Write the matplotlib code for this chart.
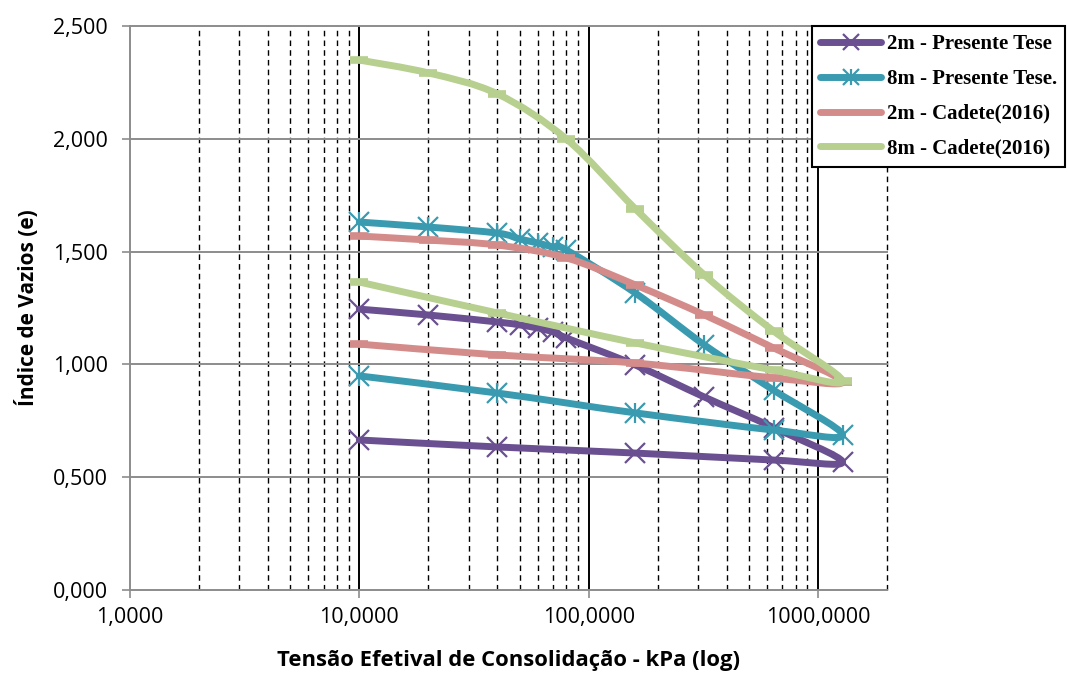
import numpy as np
import matplotlib
matplotlib.use("Agg")
import matplotlib.pyplot as plt
from matplotlib.path import Path
from matplotlib.patches import PathPatch
from matplotlib.lines import Line2D
from matplotlib.ticker import FixedLocator, FuncFormatter

# Ensaios de adensamento: tensão efetiva (kPa) x índice de vazios
p2_tese_x = [10, 20, 40, 50, 60, 70, 80, 160, 320, 640, 1280, 640, 160, 40, 10]
p2_tese_e = [1.245, 1.219, 1.188, 1.175, 1.161, 1.144, 1.117, 0.997, 0.855, 0.720, 0.567, 0.576, 0.607, 0.634, 0.665]

p8_tese_x = [10, 20, 40, 50, 60, 70, 80, 160, 320, 640, 1280, 640, 160, 40, 10]
p8_tese_e = [1.631, 1.609, 1.582, 1.556, 1.538, 1.520, 1.507, 1.316, 1.086, 0.886, 0.687, 0.709, 0.785, 0.873, 0.949]

p2_cad_x = [10, 20, 40, 80, 160, 320, 640, 1280, 640, 160, 40, 10]
p2_cad_e = [1.569, 1.551, 1.529, 1.472, 1.352, 1.219, 1.073, 0.922, 0.940, 1.006, 1.042, 1.090]

p8_cad_x = [10, 20, 40, 80, 160, 320, 640, 1280, 640, 160, 40, 10]
p8_cad_e = [2.349, 2.292, 2.199, 1.999, 1.689, 1.396, 1.148, 0.926, 0.975, 1.095, 1.228, 1.365]

labels = ["2m - Presente Tese", "8m - Presente Tese.", "2m - Cadete(2016)", "8m - Cadete(2016)"]
colors = ["#6A5090", "#3A9BB0", "#D48C8A", "#B7CF8F"]

x_ticks = [1, 10, 100, 1000]
y_ticks = [0.0, 0.5, 1.0, 1.5, 2.0, 2.5]

LW = 5.0


def smooth_path(xs, ys):
    """Cubic Bezier path through the points (Catmull-Rom tangents in log-x space)."""
    u = np.log10(np.asarray(xs, float))
    y = np.asarray(ys, float)
    n = len(u)
    verts = [(xs[0], ys[0])]
    codes = [Path.MOVETO]
    for i in range(n - 1):
        a = max(i - 1, 0)
        b = min(i + 2, n - 1)
        c1u = u[i] + (u[i + 1] - u[a]) / 6.0
        c1y = y[i] + (y[i + 1] - y[a]) / 6.0
        c2u = u[i + 1] - (u[b] - u[i]) / 6.0
        c2y = y[i + 1] - (y[b] - y[i]) / 6.0
        verts += [(10 ** c1u, c1y), (10 ** c2u, c2y), (xs[i + 1], ys[i + 1])]
        codes += [Path.CURVE4] * 3
    return Path(verts, codes)


fig = plt.figure(figsize=(10.67, 6.77), dpi=100)
ax = fig.add_axes([130 / 1067, 1 - 590 / 677, (887 - 130) / 1067, (590 - 26) / 677])
ax.set_xscale("log")
ax.set_xlim(1, 2000)
ax.set_ylim(0, 2.5)

# grid
minor_x = [m * 10 ** d for d in range(0, 4) for m in range(2, 10) if m * 10 ** d <= 2000]
for xv in minor_x:
    ax.axvline(xv, color="black", lw=1.0, ls=(0, (4, 3)), zorder=1, clip_on=False)
for xv in x_ticks[1:]:
    ax.axvline(xv, color="black", lw=1.4, zorder=1)
for yv in y_ticks[1:]:
    ax.axhline(yv, color="#8C8C8C", lw=1.4, zorder=1, clip_on=False)

series = [
    (p2_tese_x, p2_tese_e),
    (p8_tese_x, p8_tese_e),
    (p2_cad_x, p2_cad_e),
    (p8_cad_x, p8_cad_e),
]
for k, ((xs, es), col) in enumerate(zip(series, colors)):
    patch = PathPatch(smooth_path(xs, es), facecolor="none", edgecolor=col,
                      lw=LW, capstyle="round", joinstyle="round", zorder=3 + k)
    ax.add_patch(patch)
    if k == 0:
        ax.plot(xs, es, ls="none", marker="x", ms=14, mew=1.6, color=col, zorder=3 + k)
    elif k == 1:
        ax.plot(xs, es, ls="none", marker="x", ms=14, mew=1.6, color=col, zorder=3 + k)
        ax.plot(xs, es, ls="none", marker="|", ms=15, mew=1.6, color=col, zorder=3 + k)
    else:
        ax.plot(xs, es, ls="none", marker="_", ms=13, mew=5.5, color=col, zorder=3 + k)

# axes styling
for s in ["top", "right"]:
    ax.spines[s].set_visible(False)
for s in ["left", "bottom"]:
    ax.spines[s].set_color("#8C8C8C")
    ax.spines[s].set_linewidth(1.4)
ax.xaxis.set_major_locator(FixedLocator(x_ticks))
ax.xaxis.set_minor_locator(FixedLocator([]))
ax.yaxis.set_major_locator(FixedLocator(y_ticks))
ax.xaxis.set_major_formatter(FuncFormatter(lambda v, p: f"{v:.4f}".replace(".", ",")))
ax.yaxis.set_major_formatter(FuncFormatter(lambda v, p: f"{v:.3f}".replace(".", ",")))
ax.tick_params(axis="both", which="major", direction="out", length=6, width=1.2,
               color="#8C8C8C", labelsize=15.5, pad=10)
ax.tick_params(axis="x", pad=6)
for t in ax.get_xticklabels() + ax.get_yticklabels():
    t.set_fontfamily("Open Sans")

ax.set_xlabel("Tensão Efetival de Consolidação - kPa (log)", fontsize=15.8,
              fontweight="bold", family="Open Sans", labelpad=16)
ax.set_ylabel("Índice de Vazios (e)", fontsize=15, fontweight="bold",
              family="Open Sans", labelpad=10)

# legend
handles = [
    Line2D([], [], color=colors[0], lw=LW, marker="x", ms=11, mew=1.6, solid_capstyle="round"),
    (Line2D([], [], color=colors[1], lw=LW, marker="x", ms=11, mew=1.6, solid_capstyle="round"),
     Line2D([], [], color=colors[1], lw=0, marker="|", ms=11, mew=1.6)),
    Line2D([], [], color=colors[2], lw=LW, solid_capstyle="round"),
    Line2D([], [], color=colors[3], lw=LW, solid_capstyle="round"),
]
leg = fig.legend(handles, labels, loc="upper left", bbox_to_anchor=(812 / 1067, 1 - 26 / 677),
                 frameon=True, fancybox=False, edgecolor="black", framealpha=1,
                 prop={"family": "Liberation Serif", "weight": "bold", "size": 15},
                 handlelength=2.9, handletextpad=0.3, labelspacing=0.71,
                 borderpad=0.4, borderaxespad=0)
leg.get_frame().set_linewidth(1.5)

fig.savefig("out.png", dpi=100)
